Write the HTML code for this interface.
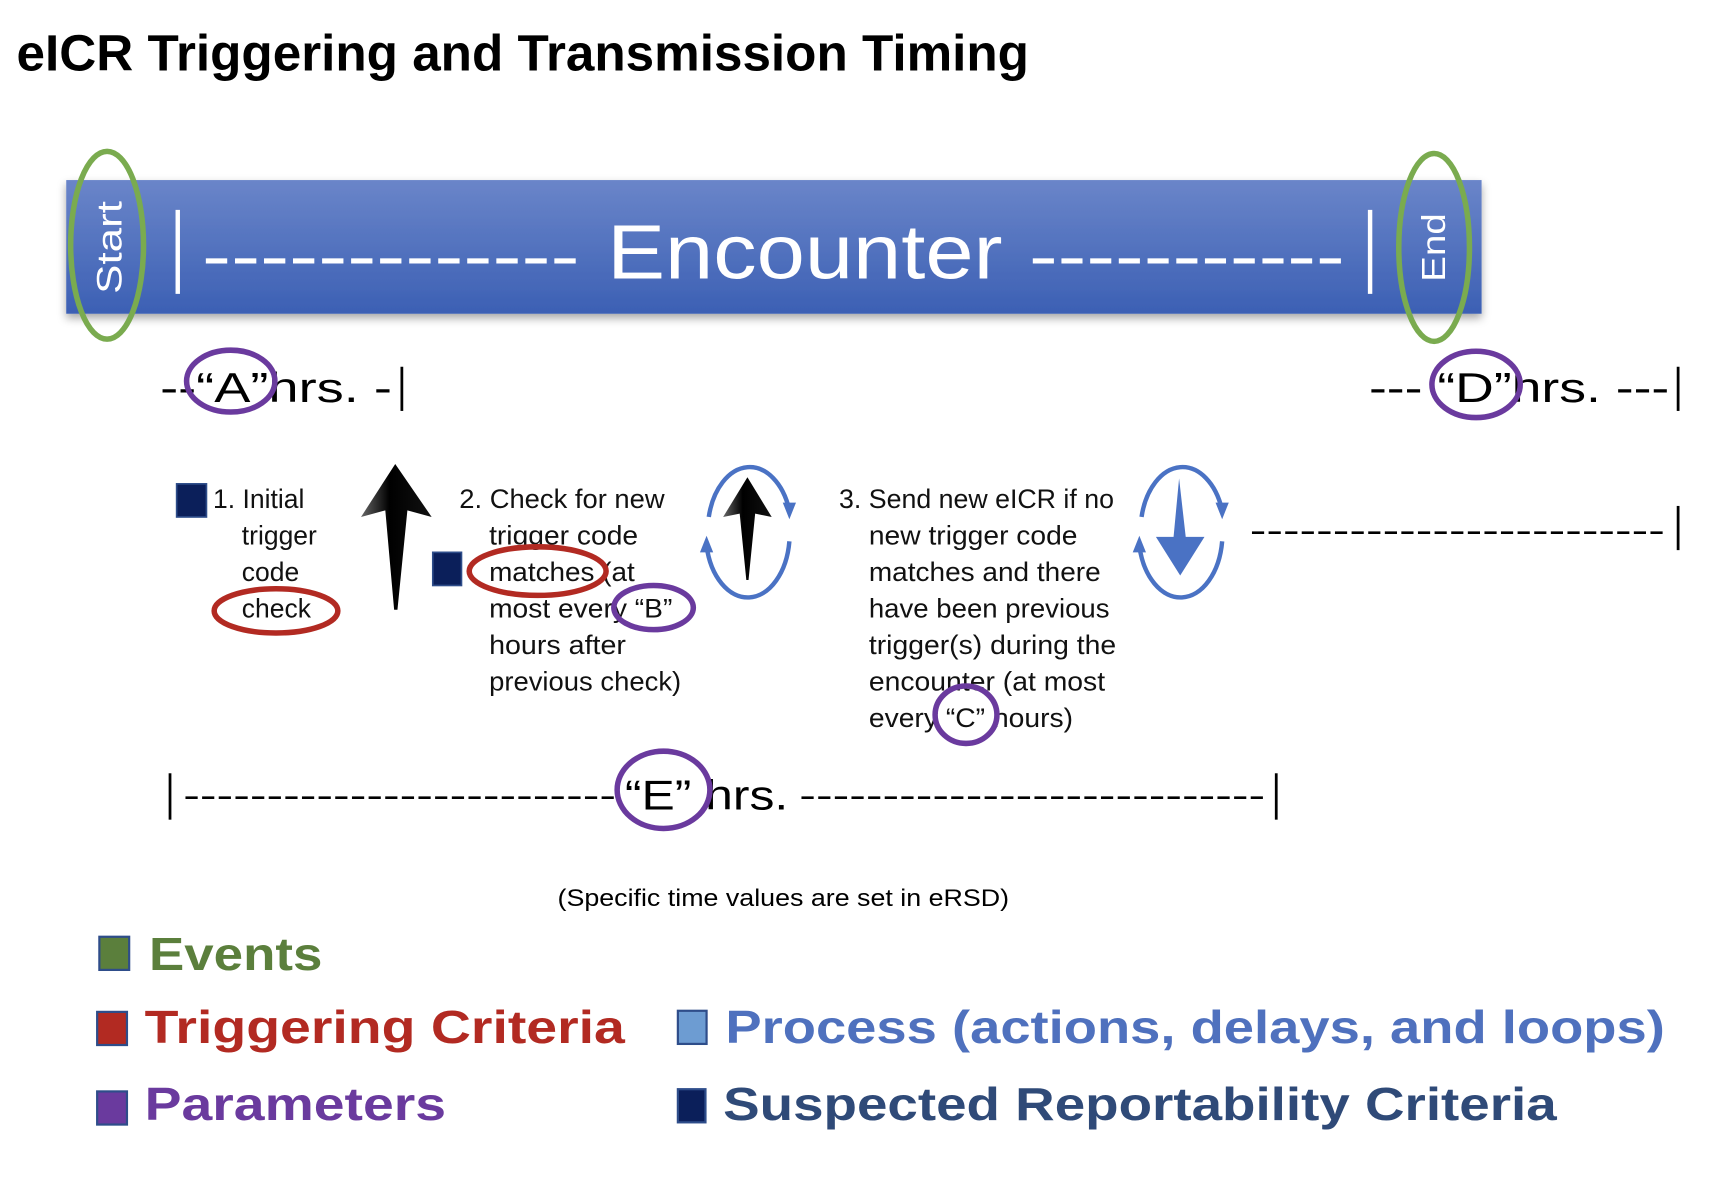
<!DOCTYPE html>
<html><head><meta charset="utf-8"><style>html,body{margin:0;padding:0;background:#fff;}svg{display:block;}</style></head>
<body>
<svg width="1730" height="1182" viewBox="0 0 1567 1070" preserveAspectRatio="none" xmlns="http://www.w3.org/2000/svg" font-family="'Liberation Sans', sans-serif">
<defs>
<linearGradient id="bar" x1="0" y1="0" x2="0" y2="1"><stop offset="0" stop-color="#6a85c9"/><stop offset="1" stop-color="#3c60b4"/></linearGradient>
<linearGradient id="blk" x1="0" y1="0" x2="1" y2="0"><stop offset="0" stop-color="#666"/><stop offset="0.4" stop-color="#000"/><stop offset="1" stop-color="#111"/></linearGradient>
<filter id="sh" x="-5%" y="-20%" width="110%" height="150%"><feDropShadow dx="0" dy="4" stdDeviation="4" flood-color="#000" flood-opacity="0.35"/></filter>
</defs>
<text x="15" y="64" font-size="46" font-weight="bold" textLength="917" lengthAdjust="spacingAndGlyphs">eICR Triggering and Transmission Timing</text>

<rect x="60" y="163" width="1282" height="121" fill="url(#bar)" filter="url(#sh)"/>
<text transform="translate(110,224) rotate(-90)" text-anchor="middle" fill="#fff" font-size="32" textLength="84" lengthAdjust="spacingAndGlyphs">Start</text>
<line x1="161" y1="190" x2="161" y2="266" stroke="#fff" stroke-width="4"/>
<text x="183" y="252" fill="#fff" font-size="60" textLength="342" lengthAdjust="spacingAndGlyphs">-------------</text>
<text x="550" y="252" fill="#fff" font-size="70" textLength="358" lengthAdjust="spacingAndGlyphs">Encounter</text>
<text x="932" y="252" fill="#fff" font-size="60" textLength="286" lengthAdjust="spacingAndGlyphs">-----------</text>
<line x1="1241" y1="190" x2="1241" y2="266" stroke="#fff" stroke-width="4"/>
<text transform="translate(1309,224) rotate(-90)" text-anchor="middle" fill="#fff" font-size="30" textLength="62" lengthAdjust="spacingAndGlyphs">End</text>
<ellipse cx="97" cy="222" rx="33" ry="85" fill="none" stroke="#7aab4f" stroke-width="5"/>
<ellipse cx="1299" cy="224" rx="32" ry="85" fill="none" stroke="#7aab4f" stroke-width="5"/>

<text x="145" y="364" font-size="38" textLength="210" lengthAdjust="spacingAndGlyphs">--“A”hrs. -</text>
<line x1="364" y1="332" x2="364" y2="372" stroke="#000" stroke-width="2.5"/>
<ellipse cx="209" cy="345" rx="40" ry="28" fill="none" stroke="#6a3a9e" stroke-width="5"/>
<text x="1240" y="364" font-size="38" textLength="272" lengthAdjust="spacingAndGlyphs">--- “D”hrs. ---</text>
<line x1="1520" y1="332" x2="1520" y2="372" stroke="#000" stroke-width="2.5"/>
<ellipse cx="1337" cy="348" rx="40" ry="30" fill="none" stroke="#6a3a9e" stroke-width="5"/>

<g font-size="24" fill="#111">
<rect x="160" y="438" width="27" height="30" fill="#0b1f5a" stroke="#2e4d8a" stroke-width="1.5"/>
<text x="193" y="460">1. Initial</text>
<text x="219" y="493">trigger</text>
<text x="219" y="526">code</text>
<text x="219" y="559">check</text>
<rect x="392" y="500" width="26" height="30" fill="#0b1f5a" stroke="#2e4d8a" stroke-width="1.5"/>
<text x="416" y="460" textLength="186" lengthAdjust="spacingAndGlyphs">2. Check for new</text>
<text x="443" y="493" textLength="135" lengthAdjust="spacingAndGlyphs">trigger code</text>
<text x="443" y="526" textLength="132" lengthAdjust="spacingAndGlyphs">matches (at</text>
<text x="443" y="559" textLength="166" lengthAdjust="spacingAndGlyphs">most every “B”</text>
<text x="443" y="592" textLength="124" lengthAdjust="spacingAndGlyphs">hours after</text>
<text x="443" y="625" textLength="174" lengthAdjust="spacingAndGlyphs">previous check)</text>
<text x="760" y="460" textLength="249" lengthAdjust="spacingAndGlyphs">3. Send new eICR if no</text>
<text x="787" y="493" textLength="189" lengthAdjust="spacingAndGlyphs">new trigger code</text>
<text x="787" y="526" textLength="210" lengthAdjust="spacingAndGlyphs">matches and there</text>
<text x="787" y="559" textLength="218" lengthAdjust="spacingAndGlyphs">have been previous</text>
<text x="787" y="592" textLength="224" lengthAdjust="spacingAndGlyphs">trigger(s) during the</text>
<text x="787" y="625" textLength="214" lengthAdjust="spacingAndGlyphs">encounter (at most</text>
<text x="787" y="658" textLength="185" lengthAdjust="spacingAndGlyphs">every “C” hours)</text>
</g>
<ellipse cx="250" cy="553" rx="56" ry="20" fill="none" stroke="#b22a22" stroke-width="5"/>
<ellipse cx="487" cy="517" rx="62" ry="22" fill="none" stroke="#b22a22" stroke-width="5"/>
<ellipse cx="592" cy="550" rx="36" ry="20" fill="none" stroke="#6a3a9e" stroke-width="5"/>
<ellipse cx="875" cy="647" rx="28" ry="26" fill="none" stroke="#6a3a9e" stroke-width="5"/>

<path d="M358 420 L391 468 L369 462 L360 552 L357 552 L349 462 L327 468 Z" fill="url(#blk)"/>
<path d="M642 468 A38 58 0 0 1 715 462" fill="none" stroke="#4a72c4" stroke-width="4"/>
<path d="M715 490 A38 58 0 0 1 640 494" fill="none" stroke="#4a72c4" stroke-width="4"/>
<path d="M709 455 L721 455 L715 470 Z" fill="#4a72c4"/>
<path d="M634 500 L646 500 L640 485 Z" fill="#4a72c4"/>
<path d="M677 432 L699 468 L684 465 L678 525 L676 525 L670 465 L655 468 Z" fill="url(#blk)"/>
<path d="M1034 468 A38 58 0 0 1 1107 462" fill="none" stroke="#4a72c4" stroke-width="4"/>
<path d="M1107 490 A38 58 0 0 1 1032 494" fill="none" stroke="#4a72c4" stroke-width="4"/>
<path d="M1101 455 L1113 455 L1107 470 Z" fill="#4a72c4"/>
<path d="M1026 500 L1038 500 L1032 485 Z" fill="#4a72c4"/>
<path d="M1068 433 L1074 486 L1091 486 L1069 521 L1047 486 L1063 486 Z" fill="#4a72c4"/>

<text x="1132" y="490" font-size="30" textLength="376" lengthAdjust="spacingAndGlyphs">-------------------------</text>
<line x1="1520" y1="458" x2="1520" y2="498" stroke="#000" stroke-width="2.5"/>

<line x1="154" y1="700" x2="154" y2="742" stroke="#000" stroke-width="2.5"/>
<text x="166" y="730" font-size="30" textLength="392" lengthAdjust="spacingAndGlyphs">--------------------------</text>
<text x="566" y="733" font-size="38" textLength="148" lengthAdjust="spacingAndGlyphs">“E” hrs.</text>
<text x="724" y="730" font-size="30" textLength="422" lengthAdjust="spacingAndGlyphs">----------------------------</text>
<line x1="1156" y1="700" x2="1156" y2="742" stroke="#000" stroke-width="2.5"/>
<ellipse cx="601" cy="715" rx="42" ry="35" fill="none" stroke="#6a3a9e" stroke-width="5"/>

<text x="505" y="820" font-size="22" textLength="409" lengthAdjust="spacingAndGlyphs">(Specific time values are set in eRSD)</text>

<g font-size="42" font-weight="bold">
<rect x="90" y="848" width="27" height="30" fill="#5b7f3c" stroke="#2e4d8a" stroke-width="2"/>
<text x="135" y="878" fill="#5b7f3c" textLength="157" lengthAdjust="spacingAndGlyphs">Events</text>
<rect x="88" y="916" width="27" height="30" fill="#b22a22" stroke="#2e4d8a" stroke-width="2"/>
<text x="131" y="944" fill="#b22a22" textLength="435" lengthAdjust="spacingAndGlyphs">Triggering Criteria</text>
<rect x="614" y="915" width="26" height="30" fill="#6d9cd2" stroke="#2e4d8a" stroke-width="2"/>
<text x="657" y="944" fill="#4f71be" textLength="851" lengthAdjust="spacingAndGlyphs">Process (actions, delays, and loops)</text>
<rect x="88" y="988" width="27" height="30" fill="#6a3a9e" stroke="#2e4d8a" stroke-width="2"/>
<text x="131" y="1014" fill="#6a3a9e" textLength="273" lengthAdjust="spacingAndGlyphs">Parameters</text>
<rect x="614" y="986" width="25" height="30" fill="#0b1f5a" stroke="#2e4d8a" stroke-width="2"/>
<text x="655" y="1014" fill="#2f4a78" textLength="755" lengthAdjust="spacingAndGlyphs">Suspected Reportability Criteria</text>
</g>
</svg>
</body></html>
